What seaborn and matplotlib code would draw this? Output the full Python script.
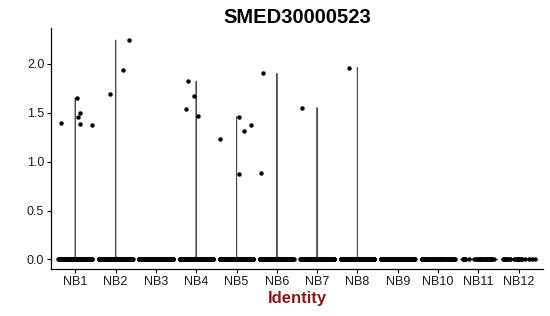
import numpy as np
import pandas as pd
import matplotlib
matplotlib.use("Agg")
import matplotlib.pyplot as plt
import seaborn as sns

# ---- data ----
categories = ["NB1", "NB2", "NB3", "NB4", "NB5", "NB6",
              "NB7", "NB8", "NB9", "NB10", "NB11", "NB12"]
# expressing cells (non-zero values) per identity
nonzero = {
    "NB1": [1.37, 1.39, 1.50, 1.46, 1.38, 1.65],
    "NB2": [2.24, 1.94, 1.69],
    "NB3": [],
    "NB4": [1.82, 1.47, 1.67, 1.54],
    "NB5": [1.31, 0.87, 1.23, 1.37, 1.46],
    "NB6": [1.90, 0.88],
    "NB7": [1.55],
    "NB8": [1.96],
    "NB9": [],
    "NB10": [],
    "NB11": [],
    "NB12": [],
}
# number of non-expressing (zero) cells per identity (estimated)
zero_counts = [300, 300, 300, 300, 300, 300, 300, 300, 260, 60, 35, 25]
title = "SMED30000523"
y_ticks = [0.0, 0.5, 1.0, 1.5, 2.0]

rows = []
for cat, nz in zip(categories, zero_counts):
    rows += [(cat, 0.0)] * nz
    rows += [(cat, v) for v in nonzero[cat]]
df = pd.DataFrame(rows, columns=["Identity", "expr"])

sns.set_theme(style="white")
plt.rcParams["font.family"] = ["Liberation Sans", "DejaVu Sans"]

fig, ax = plt.subplots(figsize=(5.5, 3.16), dpi=100)
fig.subplots_adjust(left=0.093, right=0.987, top=0.91, bottom=0.148)

sns.violinplot(data=df, x="Identity", y="expr", order=categories, ax=ax,
               cut=0, density_norm="width", bw_adjust=0.01, inner=None,
               fill=False, color="#4d4d4d", linewidth=0.8, width=0.9)

np.random.seed(3)
sns.stripplot(data=df, x="Identity", y="expr", order=categories, ax=ax,
              jitter=0.42, color="black", size=3.2, linewidth=0, zorder=3)

ax.set_xlim(-0.6, 11.6)
ax.set_ylim(-0.1, 2.36)
ax.set_yticks(y_ticks)
ax.set_yticklabels([f"{t:.1f}" for t in y_ticks])
ax.set_ylabel("")
ax.set_xlabel("Identity", fontsize=12, fontweight="bold", color="#8B1A1A", labelpad=2)
ax.set_title(title, fontsize=14.5, fontweight="bold", pad=4, color="black")
ax.tick_params(axis="both", which="both", length=3, width=0.8, color="black",
               labelsize=9, labelcolor="#1a1a1a", pad=2, bottom=True, left=True)
for s in ["top", "right"]:
    ax.spines[s].set_visible(False)
for s in ["left", "bottom"]:
    ax.spines[s].set_color("black")
    ax.spines[s].set_linewidth(0.9)

fig.savefig("out.png", dpi=100)
